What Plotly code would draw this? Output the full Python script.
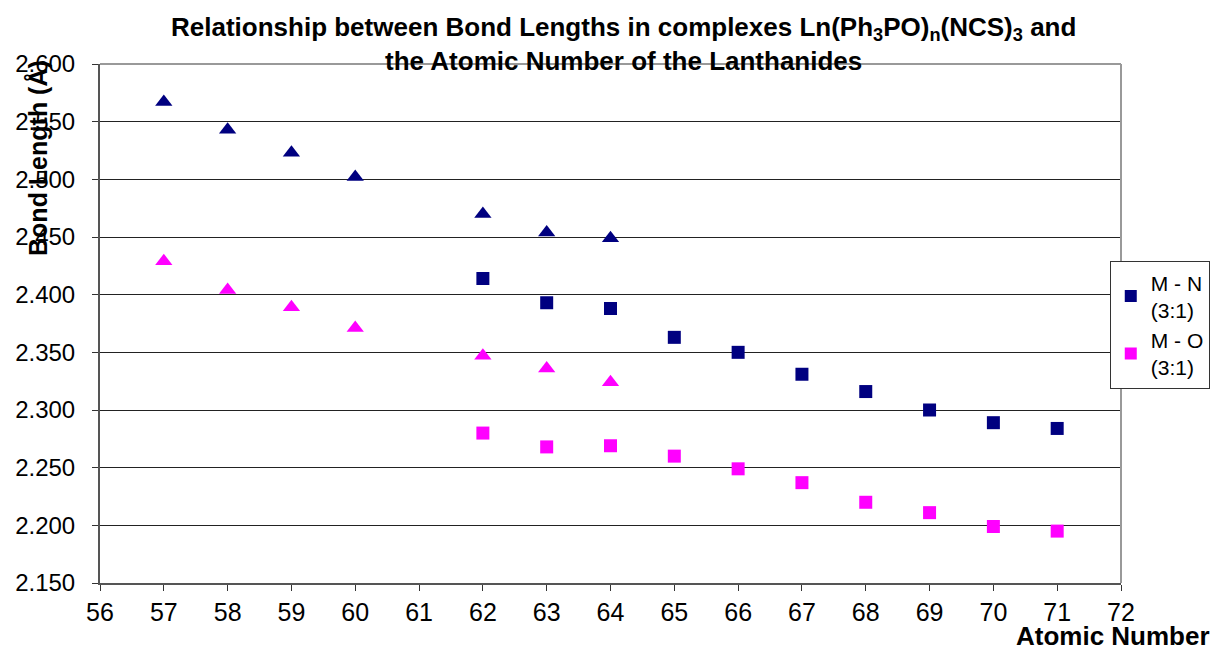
import plotly.graph_objects as go

atomic_tri = [57, 58, 59, 60, 62, 63, 64]
mn_tri = [2.567, 2.543, 2.523, 2.502, 2.470, 2.454, 2.449]
mo_tri = [2.429, 2.404, 2.389, 2.371, 2.347, 2.336, 2.324]

atomic_sq = [62, 63, 64, 65, 66, 67, 68, 69, 70, 71]
mn_sq = [2.414, 2.393, 2.388, 2.363, 2.350, 2.331, 2.316, 2.300, 2.289, 2.284]
mo_sq = [2.280, 2.268, 2.269, 2.260, 2.249, 2.237, 2.220, 2.211, 2.199, 2.195]

x_ticks = list(range(56, 73))
y_ticks = [2.15 + 0.05 * i for i in range(10)]

NAVY = "#000080"
MAGENTA = "#FF00FF"
FONT = "Liberation Sans, Arial, sans-serif"

fig = go.Figure()
fig.add_trace(go.Scatter(x=atomic_tri, y=mn_tri, mode="markers", showlegend=False,
                         marker=dict(symbol="triangle-up", size=15, color=NAVY)))
fig.add_trace(go.Scatter(x=atomic_tri, y=mo_tri, mode="markers", showlegend=False,
                         marker=dict(symbol="triangle-up", size=15, color=MAGENTA)))
fig.add_trace(go.Scatter(x=atomic_sq, y=mn_sq, mode="markers", name="M - N<br>(3:1)",
                         marker=dict(symbol="square", size=13, color=NAVY)))
fig.add_trace(go.Scatter(x=atomic_sq, y=mo_sq, mode="markers", name="M - O<br>(3:1)",
                         marker=dict(symbol="square", size=13, color=MAGENTA)))

fig.update_layout(
    width=1214, height=646,
    margin=dict(l=100, r=93, t=64, b=63, autoexpand=False),
    paper_bgcolor="white", plot_bgcolor="white",
    font=dict(family=FONT, color="black", size=25),
    showlegend=True,
    legend=dict(x=0.989, y=0.62, xanchor="left", yanchor="top",
                bgcolor="white", bordercolor="#333333", borderwidth=1,
                font=dict(size=21, family=FONT), tracegroupgap=0,
                itemsizing="constant"),
    xaxis=dict(range=[56, 72], tickvals=x_ticks, showgrid=False, zeroline=False,
               ticks="outside", ticklen=6, tickcolor="#333333",
               showline=True, linecolor="#555555", linewidth=2,
               tickfont=dict(size=25, family=FONT)),
    yaxis=dict(range=[2.15, 2.6], tickvals=y_ticks, tickformat=".3f",
               showgrid=True, gridcolor="#222222", gridwidth=1, zeroline=False,
               ticks="outside", ticklen=6, tickcolor="#333333",
               showline=True, linecolor="#555555", linewidth=2,
               ticklabelstandoff=12,
               tickfont=dict(size=24, family=FONT)),
    shapes=[dict(type="line", xref="paper", yref="paper", x0=0, x1=1, y0=1, y1=1,
                 line=dict(color="#999999", width=2)),
            dict(type="line", xref="paper", yref="paper", x0=1, x1=1, y0=0, y1=1,
                 line=dict(color="#999999", width=2))],
    annotations=[
        dict(text="<b>Relationship between Bond Lengths in complexes Ln(Ph<sub>3</sub>PO)<sub>n</sub>(NCS)<sub>3</sub> and<br>the Atomic Number of the Lanthanides</b>",
             xref="paper", yref="paper", x=0.513, y=1.0385, xanchor="center", yanchor="middle",
             showarrow=False, font=dict(size=26, family=FONT)),
        dict(text="<b>Bond Length (Å)</b>", textangle=-90,
             xref="paper", yref="paper", x=-0.0607, y=0.819, xanchor="center", yanchor="middle",
             showarrow=False, font=dict(size=25, family=FONT)),
        dict(text="<b>Atomic Number</b>",
             xref="paper", yref="paper", x=1.089, y=-0.102, xanchor="right", yanchor="middle",
             showarrow=False, font=dict(size=26, family=FONT)),
    ],
)

fig.write_html(
    "out.html",
    config={"displayModeBar": False},
    post_script="document.body.style.margin='0';document.body.style.overflow='hidden';",
)
